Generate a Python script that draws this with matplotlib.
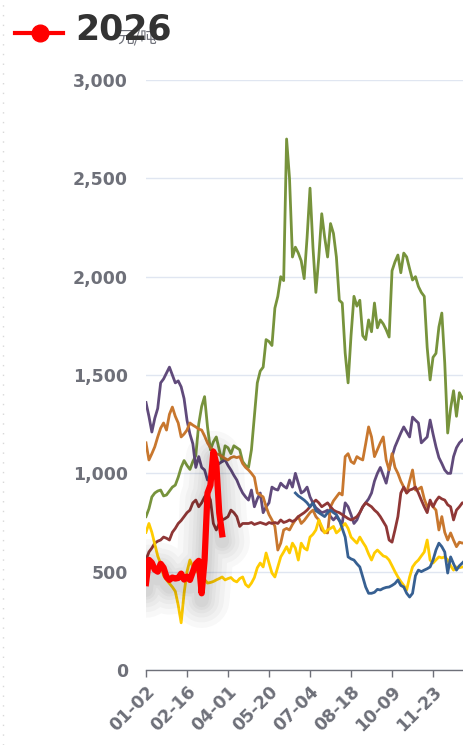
import numpy as np
import matplotlib
matplotlib.use("Agg")
import matplotlib.pyplot as plt
from matplotlib.lines import Line2D
import matplotlib.patheffects as pe

plt.rcParams["font.family"] = ["DejaVu Sans", "Noto Sans CJK SC"]

# category axis (trading days, mm-dd), labelled every 14th point
n_days = 112
tick_step = 14
tick_labels = ["01-02", "02-16", "04-01", "05-20", "07-04", "08-18", "10-09", "11-23"]
unit = "元/吨"

green = [780, 820, 880, 900, 910, 915, 885, 890, 910, 930,
         940, 980, 1030, 1065, 1040, 1020, 1060, 1090, 1250, 1340,
         1390, 1236, 1120, 1160, 1185, 1120, 1060, 1140, 1130, 1100,
         1140, 1130, 1120, 1060, 1040, 1030, 1120, 1290, 1460, 1520,
         1540, 1680, 1670, 1650, 1840, 1900, 2000, 1980, 2700, 2500,
         2100, 2150, 2120, 2080, 1990, 2200, 2450, 2150, 1920, 2100,
         2320, 2200, 2100, 2270, 2220, 2100, 1880, 1866, 1612, 1460,
         1700, 1900, 1850, 1880, 1700, 1680, 1780, 1720, 1866, 1740,
         1780, 1760, 1730, 1693, 2030, 2075, 2110, 2020, 2120, 2100,
         2040, 1983, 2000, 1950, 1920, 1900, 1640, 1475, 1590, 1610,
         1744, 1815, 1560, 1205, 1330, 1420, 1290, 1410, 1380, 1400]

purple = [1360, 1290, 1210, 1280, 1330, 1460, 1480, 1510, 1540, 1500,
          1460, 1470, 1440, 1380, 1270, 1200, 1150, 1030, 1085, 1030,
          1017, 966, 980, 1000, 1040, 1050, 1060, 1068, 1040, 1017,
          990, 966, 930, 900, 880, 864, 915, 830, 870, 900,
          800, 830, 850, 930, 920, 915, 950, 935, 925, 966,
          930, 1000, 950, 900, 910, 930, 880, 850, 825, 813,
          800, 805, 813, 780, 763, 780, 760, 745, 850, 830,
          790, 745, 763, 800, 830, 850, 870, 900, 960, 1000,
          1030, 990, 950, 1020, 1085, 1135, 1170, 1205, 1236, 1210,
          1185, 1286, 1270, 1256, 1155, 1170, 1185, 1271, 1200, 1135,
          1080, 1050, 1017, 1000, 1000, 1085, 1130, 1155, 1170, 1180]

orange = [1155, 1068, 1100, 1135, 1185, 1230, 1256, 1220, 1300, 1337,
          1290, 1256, 1185, 1200, 1220, 1256, 1245, 1236, 1225, 1220,
          1190, 1155, 1130, 1120, 1100, 1095, 1085, 1075, 1068, 1080,
          1085, 1080, 1085, 1050, 1030, 1017, 1000, 980, 900, 890,
          880, 830, 790, 763, 730, 610, 645, 712, 720, 712,
          740, 763, 780, 745, 760, 780, 800, 813, 780, 763,
          712, 700, 697, 830, 860, 880, 900, 890, 1085, 1100,
          1060, 1050, 1085, 1075, 1068, 1150, 1236, 1185, 1085, 1120,
          1155, 1185, 1068, 1017, 1100, 1030, 1000, 960, 930, 900,
          960, 1017, 915, 920, 930, 870, 830, 850, 830, 813,
          712, 780, 700, 661, 697, 660, 627, 650, 645, 650]

brown = [560, 600, 620, 645, 655, 661, 676, 670, 661, 700,
         720, 745, 760, 780, 800, 813, 850, 864, 830, 850,
         880, 900, 864, 745, 712, 745, 763, 770, 780, 813,
         800, 780, 730, 745, 745, 745, 750, 740, 745, 750,
         745, 740, 750, 745, 750, 745, 763, 750, 755, 763,
         755, 763, 780, 790, 800, 813, 830, 850, 864, 850,
         830, 840, 850, 830, 813, 805, 800, 790, 780, 770,
         763, 770, 780, 800, 830, 850, 840, 830, 813, 800,
         780, 755, 730, 661, 650, 712, 780, 900, 930, 900,
         915, 920, 930, 900, 864, 830, 800, 864, 830, 860,
         880, 870, 864, 840, 830, 763, 813, 830, 850, 850]

yellow = [700, 745, 700, 640, 580, 540, 480, 458, 440, 422,
          400, 330, 240, 390, 500, 559, 524, 508, 490, 473,
          460, 442, 445, 450, 458, 465, 473, 458, 465, 470,
          455, 448, 465, 473, 435, 422, 442, 470, 520, 544,
          524, 595, 544, 493, 473, 524, 575, 600, 627, 595,
          645, 620, 559, 645, 620, 610, 676, 690, 712, 763,
          730, 697, 712, 720, 730, 697, 710, 730, 745, 720,
          676, 660, 645, 676, 650, 627, 590, 559, 595, 610,
          595, 580, 575, 559, 530, 500, 473, 450, 430, 407,
          473, 524, 545, 559, 580, 600, 661, 559, 544, 560,
          575, 570, 575, 560, 530, 508, 524, 520, 524, 524]

# blue series begins later in the year
blue_start = 51
blue = [900, 885, 875, 864, 850, 830, 850, 810, 800,
        790, 780, 800, 813, 800, 790, 763, 720, 676, 575,
        565, 559, 540, 524, 473, 422, 390, 390, 395, 410,
        407, 415, 420, 422, 430, 440, 458, 430, 422, 390,
        371, 390, 480, 508, 500, 508, 515, 524, 559, 610,
        645, 627, 600, 493, 575, 540, 508, 530, 544, 559]

# current year
y2026 = [442, 560, 545, 510, 500, 540, 520, 473, 458, 470,
         465, 468, 490, 460, 475, 458, 500, 540, 555, 390,
         560, 900, 940, 1110, 1050, 800, 690]

W, H = 464, 745
fig = plt.figure(figsize=(W / 100, H / 100), dpi=100)
x0, x_right = 146, 146 + (n_days - 1) * 2.929
ax = fig.add_axes([x0 / W, 75 / H, (x_right - x0) / W, 590 / H])

lw = 2.0
series = [
    (np.arange(len(green)), green, "#77933c"),
    (np.arange(len(purple)), purple, "#604a7b"),
    (np.arange(len(orange)), orange, "#c8772e"),
    (np.arange(len(brown)), brown, "#8f3736"),
    (np.arange(len(yellow)), yellow, "#ffcc00"),
    (np.arange(blue_start, blue_start + len(blue)), blue, "#376092"),
]
for xs, ys, c in series:
    ax.plot(xs, ys, color=c, lw=lw, solid_joinstyle="round", zorder=3)

# soft shadow under the 2026 line
shadow = [pe.SimpleLineShadow(offset=(0, -5), shadow_color="black",
                              alpha=0.028, linewidth=w,
                              capstyle="round", joinstyle="round")
          for w in (40, 32, 25, 19, 14, 10)]
ax.plot(np.arange(len(y2026)), y2026, color="#ff0000", lw=4.5,
        solid_joinstyle="round", zorder=4,
        path_effects=shadow + [pe.Normal()])

ax.set_xlim(0, n_days - 1)
ax.set_ylim(0, 3000)
ax.set_yticks(np.arange(0, 3001, 500))
ax.set_yticklabels([f"{v:,}" for v in range(0, 3001, 500)])
ax.set_xticks(np.arange(len(tick_labels)) * tick_step)
ax.set_xticklabels(tick_labels, rotation=45, ha="right", va="top",
                   rotation_mode="anchor")

ax.grid(axis="y", color="#e0e6f1", lw=1)
ax.set_axisbelow(True)
for s in ["top", "right", "left"]:
    ax.spines[s].set_visible(False)
ax.spines["bottom"].set_color("#6e7079")
ax.spines["bottom"].set_linewidth(1)
ax.tick_params(axis="y", length=0, pad=13, labelsize=12.5, labelcolor="#6e7079")
ax.tick_params(axis="x", length=5, width=1, color="#6e7079", pad=4,
               labelsize=12.5, labelcolor="#6e7079")
for t in ax.get_xticklabels() + ax.get_yticklabels():
    t.set_fontweight("bold")

# axis unit name, partly hidden under the legend
fig.text(117 / W, 1 - 38 / H, unit, color="#6e7079", fontsize=12,
         family=["Noto Sans CJK SC", "DejaVu Sans"], va="center", ha="left")

# legend entry for 2026
ly = 1 - 33 / H
fig.add_artist(Line2D([15 / W, 63 / W], [ly, ly], color="#ff0000", lw=3))
fig.add_artist(Line2D([40 / W], [ly], color="#ff0000", marker="o",
                      markersize=12, lw=0))
fig.text(75 / W, 1 - 29 / H, "2026", color="#333333", fontsize=25,
         fontweight="bold", va="center", ha="left")

# faint dotted border at the left edge
fig.add_artist(Line2D([3 / W, 3 / W], [0, 1], color="#d8d8d8", lw=1,
                      linestyle=(0, (1, 6))))

fig.savefig("out.png", dpi=100)
